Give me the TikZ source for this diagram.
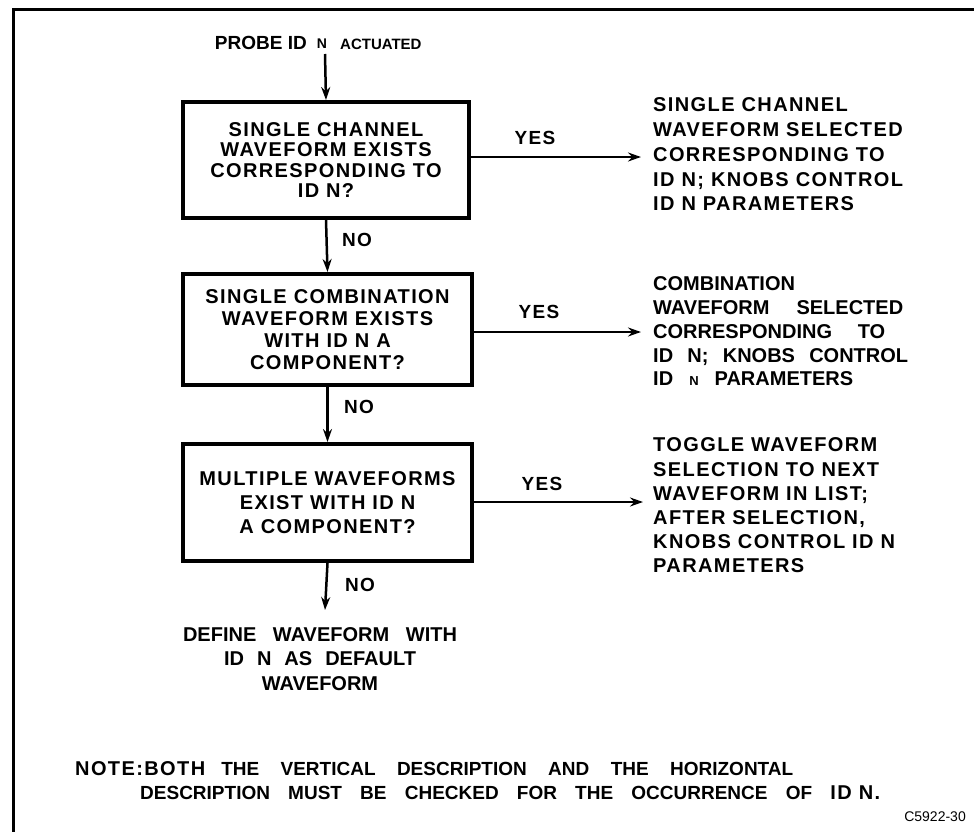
\documentclass[tikz,border=0pt]{standalone}
\usepackage{fontspec}
\setmainfont{Liberation Sans}
\newfontfamily\scan[LetterSpace=7]{Liberation Sans}
\usetikzlibrary{arrows.meta}
\tikzset{
  flowbox/.style={draw, line width=4pt, inner sep=0pt, align=center,
    font=\scan\bfseries\fontsize{20}{21}\selectfont},
  arr/.style={line width=2.5pt, -{Stealth[length=13pt,width=9pt]}},
  lbl/.style={inner sep=0pt, font=\scan\bfseries\fontsize{19}{19}\selectfont},
  rtxt/.style={anchor=west, inner sep=0pt, align=left,
    font=\scan\bfseries\fontsize{20}{24.75}\selectfont},
  rclean/.style={anchor=west, inner sep=0pt, align=left,
    font=\bfseries\fontsize{20}{23.75}\selectfont},
}
\begin{document}
\begin{tikzpicture}[x=1pt,y=-1pt]
\useasboundingbox (0,0) rectangle (974,832);
% frame (only top and left edges visible)
\draw[line width=3.5pt] (13.5,832) -- (13.5,9.5) -- (974,9.5);

% title
\node[inner sep=0pt, font=\bfseries\fontsize{14}{14}\selectfont] (titleN) at (322,44) {N};
\node[anchor=east, inner sep=0pt, font=\bfseries\fontsize{19}{19}\selectfont] (titleA) at (307,43) {PROBE ID};
\node[anchor=west, inner sep=0pt, font=\bfseries\fontsize{15}{15}\selectfont] (titleB) at (340,44) {ACTUATED};
\coordinate (start) at (325,54);

% decision boxes
\node[flowbox, minimum width=286pt, minimum height=116pt, font=\scan\bfseries\fontsize{20}{20.5}\selectfont] (b1) at (326,160)
  {SINGLE CHANNEL\\WAVEFORM EXISTS\\CORRESPONDING TO\\ID N?};
\node[flowbox, minimum width=289pt, minimum height=111pt, font=\scan\bfseries\fontsize{20}{22}\selectfont] (b2) at (327.5,329.5)
  {SINGLE COMBINATION\\WAVEFORM EXISTS\\WITH ID N A\\COMPONENT?};
\node[flowbox, minimum width=289pt, minimum height=117pt, font=\scan\bfseries\fontsize{20}{24}\selectfont] (b3) at (327.5,502.5)
  {MULTIPLE WAVEFORMS\\EXIST WITH ID N\\A COMPONENT?};

% end text
\node[inner sep=0pt, align=center, font=\bfseries\fontsize{20}{24.5}\selectfont] (def) at (320,659)
  {\makebox[274pt][s]{DEFINE WAVEFORM WITH}\\\makebox[192pt][s]{ID N AS DEFAULT}\\WAVEFORM};

% right-hand outcomes
\node[rtxt] (r1) at (653,154.5)
  {SINGLE CHANNEL\\WAVEFORM SELECTED\\CORRESPONDING TO\\ID N; KNOBS CONTROL\\ID N PARAMETERS};
\node[rclean] (r2) at (653,331.5)
  {COMBINATION\\\makebox[250pt][s]{WAVEFORM SELECTED}\\\makebox[232pt][s]{CORRESPONDING TO}\\\makebox[255pt][s]{ID N; KNOBS CONTROL}\\\makebox[200pt][s]{ID {\fontsize{13}{13}\selectfont N} PARAMETERS}};
\node[rtxt, font=\scan\bfseries\fontsize{20}{24.2}\selectfont] (r3) at (653,505.5)
  {TOGGLE WAVEFORM\\SELECTION TO NEXT\\WAVEFORM IN LIST;\\AFTER SELECTION,\\KNOBS CONTROL ID N\\PARAMETERS};

\coordinate (t1) at (641,157);
\coordinate (t2) at (641,332);
\coordinate (t3) at (643,502);
\coordinate (endc) at (325,610);

% connectors
\draw[arr] (start) -- (b1.north);
\draw[arr] (b1.south) -- (b2.north);
\draw[arr] (b2.south) -- (b3.north);
\draw[arr] (b3.south) -- (endc);
\draw[arr] (b1.east |- t1) -- (t1);
\draw[arr] (b2.east |- t2) -- (t2);
\draw[arr] (b3.east |- t3) -- (t3);

% labels
\node[lbl] (y1) at (535,138) {YES};
\node[lbl] (y2) at (539,312) {YES};
\node[lbl] (y3) at (542,484) {YES};
\node[lbl] (n1) at (357,240) {NO};
\node[lbl] (n2) at (359,407) {NO};
\node[lbl] (n3) at (360,585) {NO};

% note
\node[anchor=west, inner sep=0pt] (note1) at (75,769)
  {{\scan\bfseries\fontsize{20}{20}\selectfont NOTE:BOTH}\hspace{16pt}{\bfseries\fontsize{19}{19}\selectfont\makebox[572pt][s]{THE VERTICAL DESCRIPTION AND THE HORIZONTAL}}};
\node[anchor=west, inner sep=0pt] (note2) at (140,793)
  {\bfseries\fontsize{19}{19}\selectfont\makebox[740pt][s]{DESCRIPTION MUST BE CHECKED FOR THE OCCURRENCE OF {\scan\fontsize{20}{20}\selectfont ID\hspace{7pt}N.}}};
\node[anchor=east, inner sep=0pt, font=\fontsize{14}{14}\selectfont] (code) at (966,817) {C5922-30};
\end{tikzpicture}
\end{document}
